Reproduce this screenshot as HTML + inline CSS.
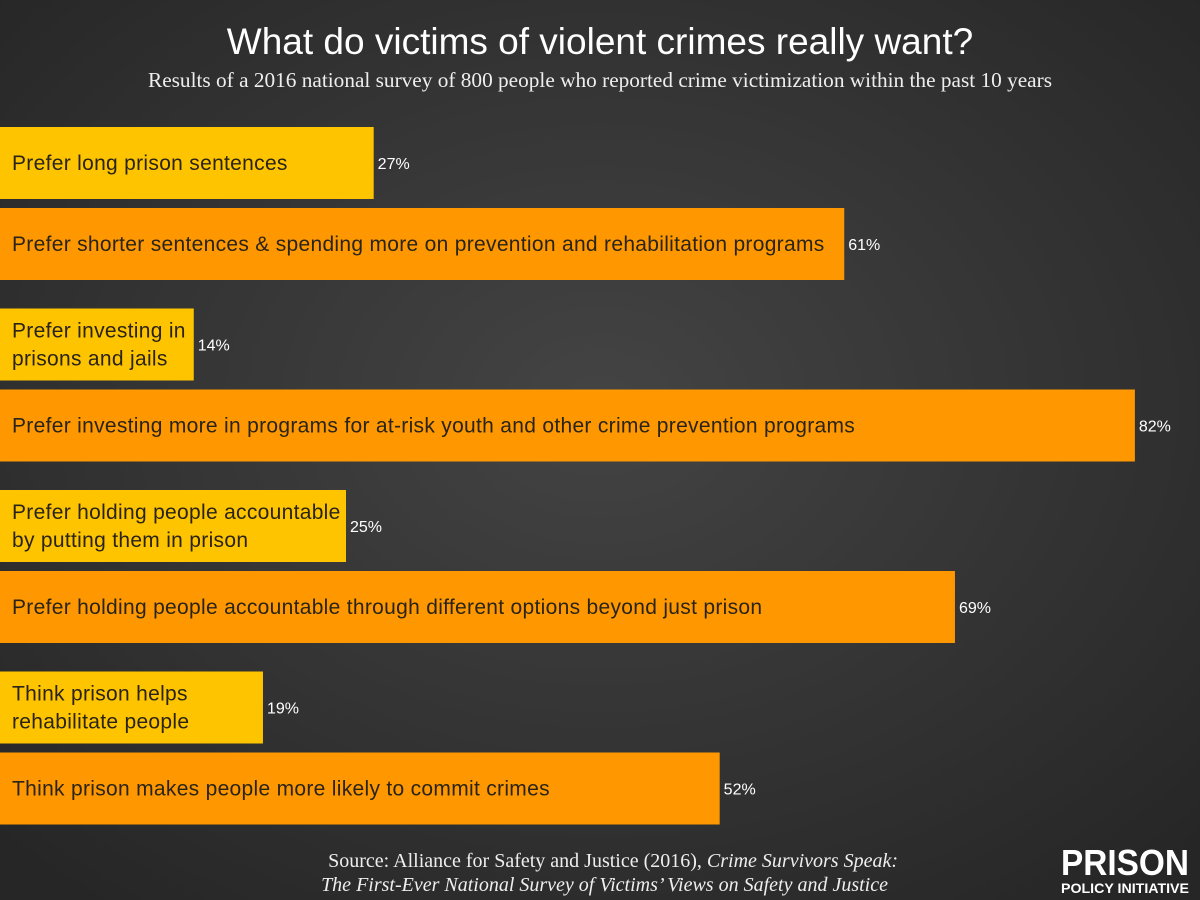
<!DOCTYPE html>
<html><head><meta charset="utf-8"><style>
body{margin:0;width:1200px;height:900px;overflow:hidden;background:#333}
svg{display:block}
</style></head><body>
<svg width="1200" height="900" xmlns="http://www.w3.org/2000/svg">
<defs>
<radialGradient id="bg" cx="50%" cy="45%" r="70%">
<stop offset="0" stop-color="#444"/><stop offset="1" stop-color="#262626"/>
</radialGradient>
</defs>
<rect width="1200" height="900" fill="url(#bg)"/>
<text x="600" y="54" text-anchor="middle" fill="#fff" font-family="Liberation Sans, sans-serif" font-size="37">What do victims of violent crimes really want?</text>
<text x="600" y="87" text-anchor="middle" fill="#eee" font-family="Liberation Serif, serif" font-size="21" textLength="904" lengthAdjust="spacingAndGlyphs">Results of a 2016 national survey of 800 people who reported crime victimization within the past 10 years</text>
<g id="bars"></g>
<text x="898" y="867" text-anchor="end" fill="#eee" font-family="Liberation Serif, serif" font-size="20">Source: Alliance for Safety and Justice (2016), <tspan font-style="italic">Crime Survivors Speak:</tspan></text>
<text x="888" y="891" text-anchor="end" fill="#eee" font-family="Liberation Serif, serif" font-size="20" font-style="italic">The First-Ever National Survey of Victims’ Views on Safety and Justice</text>
<g font-family="Liberation Sans, sans-serif" fill="#fff">
<text x="1061" y="875" font-size="36" font-weight="bold" textLength="128" lengthAdjust="spacingAndGlyphs">PRISON</text>
<text x="1061" y="893" font-size="14" font-weight="bold" textLength="128" lengthAdjust="spacingAndGlyphs">POLICY INITIATIVE</text>
</g>
</svg>
<script>
const categories=["Prefer long prison sentences","Prefer shorter sentences & spending more on prevention and rehabilitation programs","Prefer investing in|prisons and jails","Prefer investing more in programs for at-risk youth and other crime prevention programs","Prefer holding people accountable|by putting them in prison","Prefer holding people accountable through different options beyond just prison","Think prison helps|rehabilitate people","Think prison makes people more likely to commit crimes"];
const values=[27,61,14,82,25,69,19,52];
const valueLabels=["27%","61%","14%","82%","25%","69%","19%","52%"];
const groups=[0,1,0,1,0,1,0,1];
const ns="http://www.w3.org/2000/svg";
const x=v=>v*13.84;
const y=i=>127+Math.floor(i/2)*181.5+(i%2)*81;
const g=document.getElementById('bars');
values.forEach((v,i)=>{
  const r=document.createElementNS(ns,'rect');
  
  
  r.setAttribute('x',0);r.setAttribute('y',y(i));r.setAttribute('width',x(v));r.setAttribute('height',72);
  r.setAttribute('fill',groups[i]?'#FF9800':'#FFC400');
  g.appendChild(r);
  const lines=categories[i].split('|');
  const t=document.createElementNS(ns,'text');
  
  
  t.setAttribute('font-family','Liberation Sans, sans-serif');
  t.setAttribute('font-size','21');t.setAttribute('fill','#2a2418');
  t.setAttribute('letter-spacing','0.3');
  lines.forEach((l,k)=>{
    const ts=document.createElementNS(ns,'tspan');
    ts.setAttribute('x',12);
    ts.setAttribute('y',y(i)+36+7+(k-(lines.length-1)/2)*28);
    ts.textContent=l;t.appendChild(ts);
  });
  g.appendChild(t);
  const vt=document.createElementNS(ns,'text');
  
  
  vt.setAttribute('x',x(v)+4);vt.setAttribute('y',y(i)+42);
  vt.setAttribute('font-family','Liberation Sans, sans-serif');
  vt.setAttribute('font-size','16');vt.setAttribute('fill','#fff');
  vt.textContent=valueLabels[i];
  g.appendChild(vt);
});
</script>
</body></html>
